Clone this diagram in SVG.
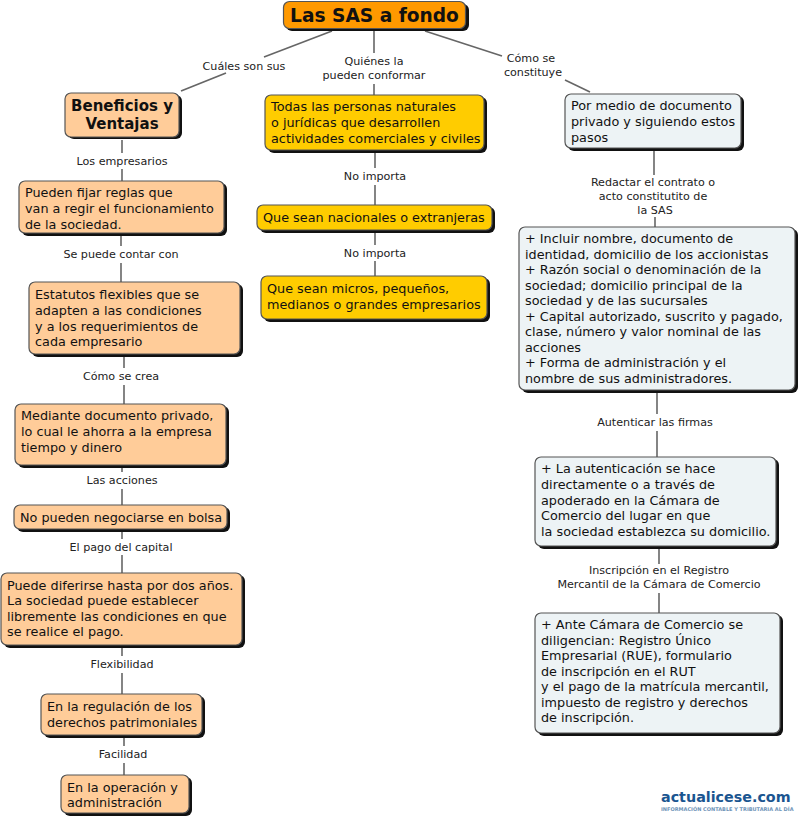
<svg xmlns="http://www.w3.org/2000/svg" width="800" height="818" viewBox="0 0 800 818">
<style>
text{font-family:"DejaVu Sans",Verdana,sans-serif;fill:#111}
.n{font-size:12.800px}
.l{font-size:11.150px;text-anchor:middle;fill:#222}
.b{font-weight:bold;text-anchor:middle}
.c line{stroke:#666;stroke-width:1.6}
.s{fill:#111}
.o{stroke:#555;stroke-width:1.2}
.p{fill:#ffcc99}.y{fill:#ffcc00}.w{fill:#edf3f5}.t{fill:#ff9900}
</style>
<rect width="800" height="818" fill="#fff"/>
<g class="c" id="connectors">
<line x1="332" y1="31" x2="264" y2="57"/><line x1="226" y1="73" x2="181" y2="91"/>
<line x1="374" y1="31" x2="374" y2="53"/><line x1="374" y1="84" x2="374" y2="95"/>
<line x1="425" y1="31" x2="502" y2="56"/><line x1="565" y1="80" x2="590" y2="92"/>
<line x1="122" y1="140" x2="122" y2="153"/><line x1="122" y1="169" x2="122" y2="181"/>
<line x1="121" y1="236" x2="121" y2="246"/><line x1="121" y1="263" x2="121" y2="282"/>
<line x1="124" y1="357" x2="124" y2="368"/><line x1="124" y1="385" x2="124" y2="404"/>
<line x1="122" y1="468" x2="122" y2="472"/><line x1="122" y1="489" x2="122" y2="505"/>
<line x1="122" y1="532" x2="122" y2="539"/><line x1="122" y1="555" x2="122" y2="573"/>
<line x1="122" y1="648" x2="122" y2="656"/><line x1="122" y1="673" x2="122" y2="694"/>
<line x1="124" y1="738" x2="124" y2="746"/><line x1="124" y1="763" x2="124" y2="775"/>
<line x1="375" y1="153" x2="375" y2="168"/><line x1="375" y1="185" x2="375" y2="205"/>
<line x1="375" y1="233" x2="375" y2="245"/><line x1="375" y1="261" x2="375" y2="276"/>
<line x1="654" y1="151" x2="654" y2="175"/><line x1="655" y1="217" x2="655" y2="227"/>
<line x1="657" y1="393" x2="657" y2="414"/><line x1="657" y1="431" x2="657" y2="457"/>
<line x1="659" y1="549" x2="659" y2="564"/><line x1="659" y1="593" x2="659" y2="613"/>
</g>
<g id="l1"><text class="l" x="244" y="70">Cuáles son sus</text></g>
<g id="l2"><text class="l" x="374" y="65">Quiénes la</text><text class="l" x="374" y="79">pueden conformar</text></g>
<g id="l3"><text class="l" x="531" y="62">Cómo se</text><text class="l" x="533" y="76">constituye</text></g>
<g id="l4"><text class="l" x="122" y="165">Los empresarios</text></g>
<g id="l5"><text class="l" x="121" y="258">Se puede contar con</text></g>
<g id="l6"><text class="l" x="121" y="380">Cómo se crea</text></g>
<g id="l7"><text class="l" x="122" y="484">Las acciones</text></g>
<g id="l8"><text class="l" x="121" y="551">El pago del capital</text></g>
<g id="l9"><text class="l" x="122" y="668">Flexibilidad</text></g>
<g id="l10"><text class="l" x="123" y="758">Facilidad</text></g>
<g id="l11"><text class="l" x="375" y="180">No importa</text></g>
<g id="l12"><text class="l" x="375" y="257">No importa</text></g>
<g id="l13"><text class="l" x="653" y="186">Redactar el contrato o</text><text class="l" x="653" y="200">acto constitutito de</text><text class="l" x="655" y="214">la SAS</text></g>
<g id="l14"><text class="l" x="655" y="426">Autenticar las firmas</text></g>
<g id="l15"><text class="l" x="659" y="574">Inscripción en el Registro</text><text class="l" x="659" y="588">Mercantil de la Cámara de Comercio</text></g>

<g id="n-title"><rect class="s" x="286" y="4" width="183" height="27" rx="6"/><rect class="t o" x="283.500" y="1.500" width="182" height="27" rx="6"/><text class="b" x="374.500" y="22" font-size="18.600">Las SAS a fondo</text></g>
<g id="n-beneficios"><rect class="s" x="68" y="95" width="114" height="44" rx="6"/><rect class="p o" x="65" y="93" width="114" height="44" rx="6"/><text class="b" x="122" y="111" font-size="15">Beneficios y</text><text class="b" x="122" y="129" font-size="15">Ventajas</text></g>
<g id="n-pueden"><rect class="s" x="22" y="183" width="205" height="53" rx="6"/><rect class="p o" x="19" y="181" width="205" height="52" rx="6"/><text class="n" x="25" y="197">Pueden fijar reglas que</text><text class="n" x="25" y="213">van a regir el funcionamiento</text><text class="n" x="25" y="229">de la sociedad.</text></g>
<g id="n-estatutos"><rect class="s" x="32" y="284" width="211" height="73" rx="6"/><rect class="p o" x="29" y="282" width="211" height="72" rx="6"/><text class="n" x="35" y="299">Estatutos flexibles que se</text><text class="n" x="35" y="315">adapten a las condiciones</text><text class="n" x="35" y="330.500">y a los requerimientos de</text><text class="n" x="35" y="346">cada empresario</text></g>
<g id="n-mediante"><rect class="s" x="18" y="406" width="211" height="62" rx="6"/><rect class="p o" x="15" y="404" width="211" height="61" rx="6"/><text class="n" x="21" y="420">Mediante documento privado,</text><text class="n" x="21" y="436">lo cual le ahorra a la empresa</text><text class="n" x="21" y="451.500">tiempo y dinero</text></g>
<g id="n-bolsa"><rect class="s" x="17" y="507" width="213" height="25" rx="6"/><rect class="p o" x="14" y="505" width="213" height="24" rx="6"/><text class="n" x="20" y="522">No pueden negociarse en bolsa</text></g>
<g id="n-diferirse"><rect class="s" x="4" y="575" width="241" height="73" rx="6"/><rect class="p o" x="1" y="573" width="241" height="72" rx="6"/><text class="n" x="7" y="589.500">Puede diferirse hasta por dos años.</text><text class="n" x="7" y="605">La sociedad puede establecer</text><text class="n" x="7" y="620.500">libremente las condiciones en que</text><text class="n" x="7" y="636">se realice el pago.</text></g>
<g id="n-regulacion"><rect class="s" x="44" y="696" width="161" height="42" rx="6"/><rect class="p o" x="41" y="694" width="161" height="41" rx="6"/><text class="n" x="47" y="711">En la regulación de los</text><text class="n" x="47" y="727">derechos patrimoniales</text></g>
<g id="n-operacion"><rect class="s" x="64" y="777" width="128" height="39" rx="6"/><rect class="p o" x="61" y="775" width="128" height="38" rx="6"/><text class="n" x="67" y="792">En la operación y</text><text class="n" x="67" y="807">administración</text></g>

<g id="n-todas"><rect class="s" x="268" y="97" width="219" height="56" rx="6"/><rect class="y o" x="265" y="95" width="219" height="55" rx="6"/><text class="n" x="271" y="111">Todas las personas naturales</text><text class="n" x="271" y="127">o jurídicas que desarrollen</text><text class="n" x="271" y="143">actividades comerciales y civiles</text></g>
<g id="n-nacionales"><rect class="s" x="260" y="207" width="235" height="26" rx="6"/><rect class="y o" x="257" y="205" width="235" height="25" rx="6"/><text class="n" x="263" y="222">Que sean nacionales o extranjeras</text></g>
<g id="n-micros"><rect class="s" x="264" y="278" width="226" height="44" rx="6"/><rect class="y o" x="261" y="276" width="226" height="43" rx="6"/><text class="n" x="267" y="293">Que sean micros, pequeños,</text><text class="n" x="267" y="309">medianos o grandes empresarios</text></g>

<g id="n-medio"><rect class="s" x="568" y="96" width="176" height="55" rx="6"/><rect class="w o" x="565" y="94" width="176" height="54" rx="6"/><text class="n" x="571" y="110">Por medio de documento</text><text class="n" x="571" y="126">privado y siguiendo estos</text><text class="n" x="571" y="142">pasos</text></g>
<g id="n-incluir"><rect class="s" x="522" y="229" width="276" height="164" rx="6"/><rect class="w o" x="519" y="227" width="276" height="163" rx="6"/><text class="n" x="525" y="243">+ Incluir nombre, documento de</text><text class="n" x="525" y="258.500">identidad, domicilio de los accionistas</text><text class="n" x="525" y="274">+ Razón social o denominación de la</text><text class="n" x="525" y="289.500">sociedad; domicilio principal de la</text><text class="n" x="525" y="305">sociedad y de las sucursales</text><text class="n" x="525" y="320.500">+ Capital autorizado, suscrito y pagado,</text><text class="n" x="525" y="336">clase, número y valor nominal de las</text><text class="n" x="525" y="351.500">acciones</text><text class="n" x="525" y="367">+ Forma de administración y el</text><text class="n" x="525" y="382.500">nombre de sus administradores.</text></g>
<g id="n-autenticacion"><rect class="s" x="538" y="459" width="241" height="90" rx="6"/><rect class="w o" x="535" y="457" width="241" height="89" rx="6"/><text class="n" x="541" y="473">+ La autenticación se hace</text><text class="n" x="541" y="489">directamente o a través de</text><text class="n" x="541" y="504.500">apoderado en la Cámara de</text><text class="n" x="541" y="520">Comercio del lugar en que</text><text class="n" x="541" y="536">la sociedad establezca su domicilio.</text></g>
<g id="n-ante"><rect class="s" x="538" y="615" width="245" height="121" rx="6"/><rect class="w o" x="535" y="613" width="245" height="120" rx="6"/><text class="n" x="541" y="629">+ Ante Cámara de Comercio se</text><text class="n" x="541" y="644.500">diligencian: Registro Único</text><text class="n" x="541" y="660">Empresarial (RUE), formulario</text><text class="n" x="541" y="675.500">de inscripción en el RUT</text><text class="n" x="541" y="691">y el pago de la matrícula mercantil,</text><text class="n" x="541" y="706.500">impuesto de registro y derechos</text><text class="n" x="541" y="722">de inscripción.</text></g>
<g id="logo"><text x="661" y="802" font-size="14.300" font-weight="bold" style="fill:#1a5590">actualicese.com</text><text x="661" y="810.500" font-size="5" font-weight="bold" style="fill:#6f94b8">INFORMACIÓN CONTABLE Y TRIBUTARIA AL DÍA</text></g>
</svg>
